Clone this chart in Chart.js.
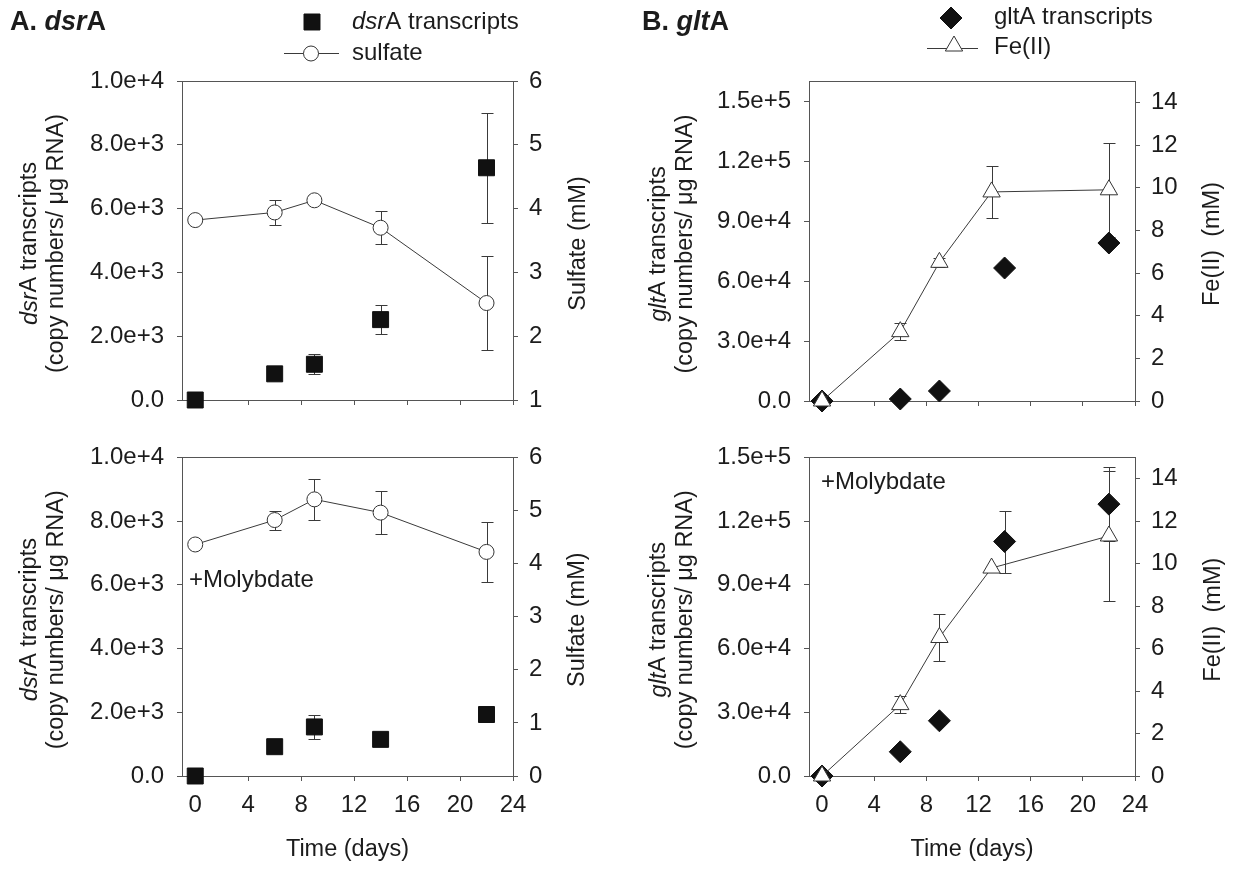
<!DOCTYPE html>
<html>
<head>
<meta charset="utf-8">
<script src="https://cdn.jsdelivr.net/npm/chart.js@4/dist/chart.umd.min.js"></script>
<style>
  html, body { margin: 0; padding: 0; background: #fff; }
  #wrap { position: relative; width: 1247px; height: 872px; overflow: hidden; background: #fff; }
  #wrap canvas { position: absolute; }
</style>
</head>
<body>
<div id="wrap">
  <canvas id="dsrTop" width="620" height="430" style="left:0;top:0"></canvas>
  <canvas id="gltTop" width="627" height="430" style="left:620px;top:0"></canvas>
  <canvas id="dsrMo" width="620" height="442" style="left:0;top:430px"></canvas>
  <canvas id="gltMo" width="627" height="442" style="left:620px;top:430px"></canvas>
</div>
<script>
// ---- sampling days ----
const days = [0, 6, 9, 14, 22];
const feDays = [0, 6, 9, 13, 22];

// ---- A. dsrA, no amendment ----
const dsrA = [0, 820, 1120, 2520, 7280];
const dsrAErr = [0, 0, 310, 450, 1720];
const sulfate = [3.82, 3.94, 4.13, 3.70, 2.52];
const sulfateErr = [0, 0.19, 0, 0.26, 0.73];

// ---- A. dsrA, +Molybdate ----
const dsrAMo = [0, 920, 1540, 1150, 1930];
const dsrAMoErr = [0, 0, 380, 0, 0];
const sulfateMo = [4.36, 4.82, 5.21, 4.96, 4.22];
const sulfateMoErr = [0, 0.18, 0.39, 0.41, 0.57];

// ---- B. gltA, no amendment ----
const gltA = [0, 1000, 5000, 66500, 79000];
const gltAErr = [0, 0, 0, 0, 0];
const fe = [0, 3.25, 6.5, 9.8, 9.9];
const feErr = [0, 0.4, 0.2, 1.2, 2.2];

// ---- B. gltA, +Molybdate ----
const gltAMo = [0, 11400, 26000, 110400, 128000];
const gltAMoErr = [0, 0, 0, 14600, 17300];
const feMo = [0, 3.36, 6.52, 9.79, 11.3];
const feMoErr = [0, 0.4, 1.09, 0, 3.05];

// ---- tick values ----
const timeTicks = [0, 4, 8, 12, 16, 20, 24];
const dsrTicks = [0, 2000, 4000, 6000, 8000, 10000];
const sulfateTicksTop = [1, 2, 3, 4, 5, 6];
const sulfateTicksMo = [0, 1, 2, 3, 4, 5, 6];
const gltTicks = [0, 30000, 60000, 90000, 120000, 150000];
const feTicks = [0, 2, 4, 6, 8, 10, 12, 14];

// ---- styling ----
const FONT = '"Liberation Sans", Arial, Helvetica, sans-serif';
const INK = '#1c1c1c';
const AXIS = '#555555';
const LINE = '#3a3a3a';
const TICK_SIZE = 24;
const TITLE_SIZE = 23.5;

function exp1(v) { return v === 0 ? '0.0' : v.toExponential(1); }
function pts(xs, ys) { return xs.map((x, i) => ({ x: x, y: ys[i] })); }
function fixedTicks(list) { return scale => { scale.ticks = list.map(v => ({ value: v })); }; }

function fontStr(p, size) {
  return (p[1] ? 'italic ' : '') + (p[2] ? 'bold ' : '') + size + 'px ' + FONT;
}
// text made of runs: [text, italic, bold]
function richText(ctx, parts, x, y, align, size) {
  ctx.textAlign = 'left';
  ctx.textBaseline = 'middle';
  let w = 0;
  parts.forEach(p => { ctx.font = fontStr(p, size); w += ctx.measureText(p[0]).width; });
  let cx = align === 'center' ? x - w / 2 : x;
  parts.forEach(p => {
    ctx.font = fontStr(p, size);
    ctx.fillText(p[0], cx, y);
    cx += ctx.measureText(p[0]).width;
  });
}
function vText(ctx, parts, x, y, size) {
  ctx.save();
  ctx.translate(x, y);
  ctx.rotate(-Math.PI / 2);
  richText(ctx, parts, 0, 0, 'center', size);
  ctx.restore();
}

// small marker shapes for the legends
function marker(ctx, style, x, y, r, fill, stroke) {
  ctx.save();
  ctx.fillStyle = fill;
  ctx.strokeStyle = stroke;
  ctx.lineWidth = 1;
  ctx.beginPath();
  if (style === 'rect') {
    const s = r * Math.SQRT1_2;
    ctx.rect(x - s, y - s, 2 * s, 2 * s);
  } else if (style === 'rectRot') {
    ctx.moveTo(x - r, y); ctx.lineTo(x, y - r); ctx.lineTo(x + r, y); ctx.lineTo(x, y + r); ctx.closePath();
  } else if (style === 'triangle') {
    const a = 2 * Math.PI / 3;
    ctx.moveTo(x, y - r);
    ctx.lineTo(x + Math.sin(a) * r, y - Math.cos(a) * r);
    ctx.lineTo(x + Math.sin(2 * a) * r, y - Math.cos(2 * a) * r);
    ctx.closePath();
  } else {
    ctx.arc(x, y, r, 0, Math.PI * 2);
  }
  ctx.fill();
  ctx.stroke();
  ctx.restore();
}

// vertical error bars with caps, drawn under the markers
const errorBars = {
  id: 'errorBars',
  beforeDatasetsDraw(chart) {
    const ctx = chart.ctx;
    const xs = chart.scales.x;
    chart.data.datasets.forEach(ds => {
      if (!ds.errors) return;
      const ys = chart.scales[ds.yAxisID];
      ctx.save();
      ctx.strokeStyle = LINE;
      ctx.lineWidth = 1;
      ds.data.forEach((p, i) => {
        const e = ds.errors[i];
        if (!e) return;
        const x = Math.round(xs.getPixelForValue(p.x)) + 0.5;
        const yHi = Math.round(ys.getPixelForValue(p.y + e)) + 0.5;
        const yLo = Math.round(ys.getPixelForValue(p.y - e)) + 0.5;
        ctx.beginPath();
        ctx.moveTo(x, yHi); ctx.lineTo(x, yLo);
        ctx.moveTo(x - 6, yHi); ctx.lineTo(x + 6, yHi);
        ctx.moveTo(x - 6, yLo); ctx.lineTo(x + 6, yLo);
        ctx.stroke();
      });
      ctx.restore();
    });
  }
};

// frame top edge, axis titles, legend and notes
function decor(draw) {
  return {
    id: 'decor',
    afterDraw(chart) {
      const ctx = chart.ctx;
      const a = chart.chartArea;
      ctx.save();
      ctx.strokeStyle = AXIS;
      ctx.lineWidth = 1;
      ctx.beginPath();
      ctx.moveTo(Math.round(a.left), Math.round(a.top) + 0.5);
      ctx.lineTo(Math.round(a.right) + 1, Math.round(a.top) + 0.5);
      ctx.moveTo(Math.round(a.left) - 5, Math.round(a.bottom) + 0.5);
      ctx.lineTo(Math.round(a.left), Math.round(a.bottom) + 0.5);
      ctx.stroke();
      ctx.fillStyle = INK;
      draw(ctx, a);
      ctx.restore();
    }
  };
}

function makeScales(o) {
  const tickFont = { family: FONT, size: TICK_SIZE };
  const grid = { drawOnChartArea: false, drawTicks: true, tickLength: 5, color: AXIS, lineWidth: 1 };
  const border = { display: true, color: AXIS, width: 1 };
  return {
    x: {
      type: 'linear', position: 'bottom', min: -1, max: 24,
      afterBuildTicks: fixedTicks(timeTicks),
      afterFit: s => { s.height = o.xHeight; },
      ticks: { display: o.showX, font: tickFont, color: INK, padding: 10, maxRotation: 0, autoSkip: false },
      grid: grid, border: border
    },
    y: {
      type: 'linear', position: 'left', min: 0, max: o.yMax,
      afterBuildTicks: fixedTicks(o.yTicks),
      afterFit: s => { s.width = o.leftW; },
      ticks: { font: tickFont, color: INK, padding: 13, callback: v => exp1(v) },
      grid: grid, border: border
    },
    y2: {
      type: 'linear', position: 'right', min: o.y2Min, max: o.y2Max,
      afterBuildTicks: fixedTicks(o.y2Ticks),
      afterFit: s => { s.width = o.rightW; },
      ticks: { font: tickFont, color: INK, padding: 11, callback: v => String(v) },
      grid: grid, border: border
    }
  };
}

function transcriptSet(label, xs, ys, errs, style, r) {
  return {
    type: 'scatter', label: label, data: pts(xs, ys), errors: errs, yAxisID: 'y',
    showLine: false, pointStyle: style, pointRadius: r, pointHoverRadius: r,
    pointBackgroundColor: '#111111', pointBorderColor: '#111111', pointBorderWidth: 1,
    clip: false, order: 1
  };
}
function chemSet(label, xs, ys, errs, style, r) {
  return {
    type: 'scatter', label: label, data: pts(xs, ys), errors: errs, yAxisID: 'y2',
    showLine: true, borderColor: LINE, borderWidth: 1, tension: 0,
    pointStyle: style, pointRadius: r, pointHoverRadius: r,
    pointBackgroundColor: '#ffffff', pointBorderColor: '#333333', pointBorderWidth: 1,
    clip: false, order: 0
  };
}

function build(id, datasets, o, draw) {
  return new Chart(document.getElementById(id), {
    type: 'scatter',
    data: { datasets: datasets },
    options: {
      responsive: false, animation: false, events: [],
      layout: { padding: { top: o.top, left: 0, right: 0, bottom: 0 } },
      plugins: { legend: { display: false }, tooltip: { enabled: false } },
      scales: makeScales(o)
    },
    plugins: [errorBars, decor(draw)]
  });
}

const dsrTitle = [['dsr', true], ['A transcripts', false]];
const gltTitle = [['glt', true], ['A transcripts', false]];
const copyTitle = [['(copy numbers/ \u03bcg RNA)', false]];

// A, top
build('dsrTop', [
  chemSet('sulfate', days, sulfate, sulfateErr, 'circle', 7.5),
  transcriptSet('dsrA transcripts', days, dsrA, dsrAErr, 'rect', 11.3)
], { top: 81, xHeight: 30, showX: false, leftW: 182, rightW: 107, yMax: 10000, yTicks: dsrTicks,
     y2Min: 1, y2Max: 6, y2Ticks: sulfateTicksTop },
(ctx, a) => {
  const cy = (a.top + a.bottom) / 2 + 3;
  richText(ctx, [['A. ', false, true], ['dsr', true, true], ['A', false, true]], 10, 23, 'left', 27);
  vText(ctx, dsrTitle, a.left - 152, cy, TITLE_SIZE);
  vText(ctx, copyTitle, a.left - 125, cy, TITLE_SIZE);
  vText(ctx, [['Sulfate (mM)', false]], a.right + 66, cy, TITLE_SIZE);
  marker(ctx, 'rect', 312, 22, 11.3, '#111111', '#111111');
  richText(ctx, [['dsr', true], ['A transcripts', false]], 352, 22, 'left', TICK_SIZE);
  ctx.strokeStyle = LINE; ctx.beginPath(); ctx.moveTo(284, 53.5); ctx.lineTo(339, 53.5); ctx.stroke();
  marker(ctx, 'circle', 311, 53.5, 7.5, '#ffffff', '#333333');
  ctx.fillStyle = INK;
  richText(ctx, [['sulfate', false]], 352, 53, 'left', TICK_SIZE);
});

// B, top
build('gltTop', [
  chemSet('Fe(II)', feDays, fe, feErr, 'triangle', 10),
  transcriptSet('gltA transcripts', days, gltA, gltAErr, 'rectRot', 11)
], { top: 81, xHeight: 29, showX: false, leftW: 189, rightW: 112, yMax: 160000, yTicks: gltTicks,
     y2Min: 0, y2Max: 15, y2Ticks: feTicks },
(ctx, a) => {
  const cy = (a.top + a.bottom) / 2 + 3;
  richText(ctx, [['B. ', false, true], ['glt', true, true], ['A', false, true]], 22, 23, 'left', 27);
  vText(ctx, gltTitle, a.left - 150, cy, TITLE_SIZE);
  vText(ctx, copyTitle, a.left - 123, cy, TITLE_SIZE);
  vText(ctx, [['Fe(II)  (mM)', false]], a.right + 78, cy, TITLE_SIZE);
  marker(ctx, 'rectRot', 331, 18, 11, '#111111', '#111111');
  richText(ctx, [['gltA transcripts', false]], 374, 17, 'left', TICK_SIZE);
  ctx.strokeStyle = LINE; ctx.beginPath(); ctx.moveTo(307, 48.5); ctx.lineTo(358, 48.5); ctx.stroke();
  marker(ctx, 'triangle', 334, 46, 10, '#ffffff', '#333333');
  ctx.fillStyle = INK;
  richText(ctx, [['Fe(II)', false]], 374, 47, 'left', TICK_SIZE);
});

// A, +Molybdate
build('dsrMo', [
  chemSet('sulfate', days, sulfateMo, sulfateMoErr, 'circle', 7.5),
  transcriptSet('dsrA transcripts', days, dsrAMo, dsrAMoErr, 'rect', 11.3)
], { top: 26, xHeight: 96, showX: true, leftW: 182, rightW: 107, yMax: 10000, yTicks: dsrTicks,
     y2Min: 0, y2Max: 6, y2Ticks: sulfateTicksMo },
(ctx, a) => {
  const cy = (a.top + a.bottom) / 2 + 3;
  vText(ctx, dsrTitle, a.left - 152, cy, TITLE_SIZE);
  vText(ctx, copyTitle, a.left - 125, cy, TITLE_SIZE);
  vText(ctx, [['Sulfate (mM)', false]], a.right + 65, cy, TITLE_SIZE);
  richText(ctx, [['Time (days)', false]], (a.left + a.right) / 2, 420, 'center', TITLE_SIZE);
  richText(ctx, [['+Molybdate', false]], 189, 150, 'left', TICK_SIZE);
});

// B, +Molybdate
build('gltMo', [
  chemSet('Fe(II)', feDays, feMo, feMoErr, 'triangle', 10),
  transcriptSet('gltA transcripts', days, gltAMo, gltAMoErr, 'rectRot', 11)
], { top: 26, xHeight: 96, showX: true, leftW: 189, rightW: 112, yMax: 150000, yTicks: gltTicks,
     y2Min: 0, y2Max: 15, y2Ticks: feTicks },
(ctx, a) => {
  const cy = (a.top + a.bottom) / 2 + 3;
  vText(ctx, gltTitle, a.left - 150, cy, TITLE_SIZE);
  vText(ctx, copyTitle, a.left - 123, cy, TITLE_SIZE);
  vText(ctx, [['Fe(II)  (mM)', false]], a.right + 79, cy, TITLE_SIZE);
  richText(ctx, [['Time (days)', false]], (a.left + a.right) / 2, 420, 'center', TITLE_SIZE);
  richText(ctx, [['+Molybdate', false]], 201, 52, 'left', TICK_SIZE);
});
</script>
</body>
</html>
